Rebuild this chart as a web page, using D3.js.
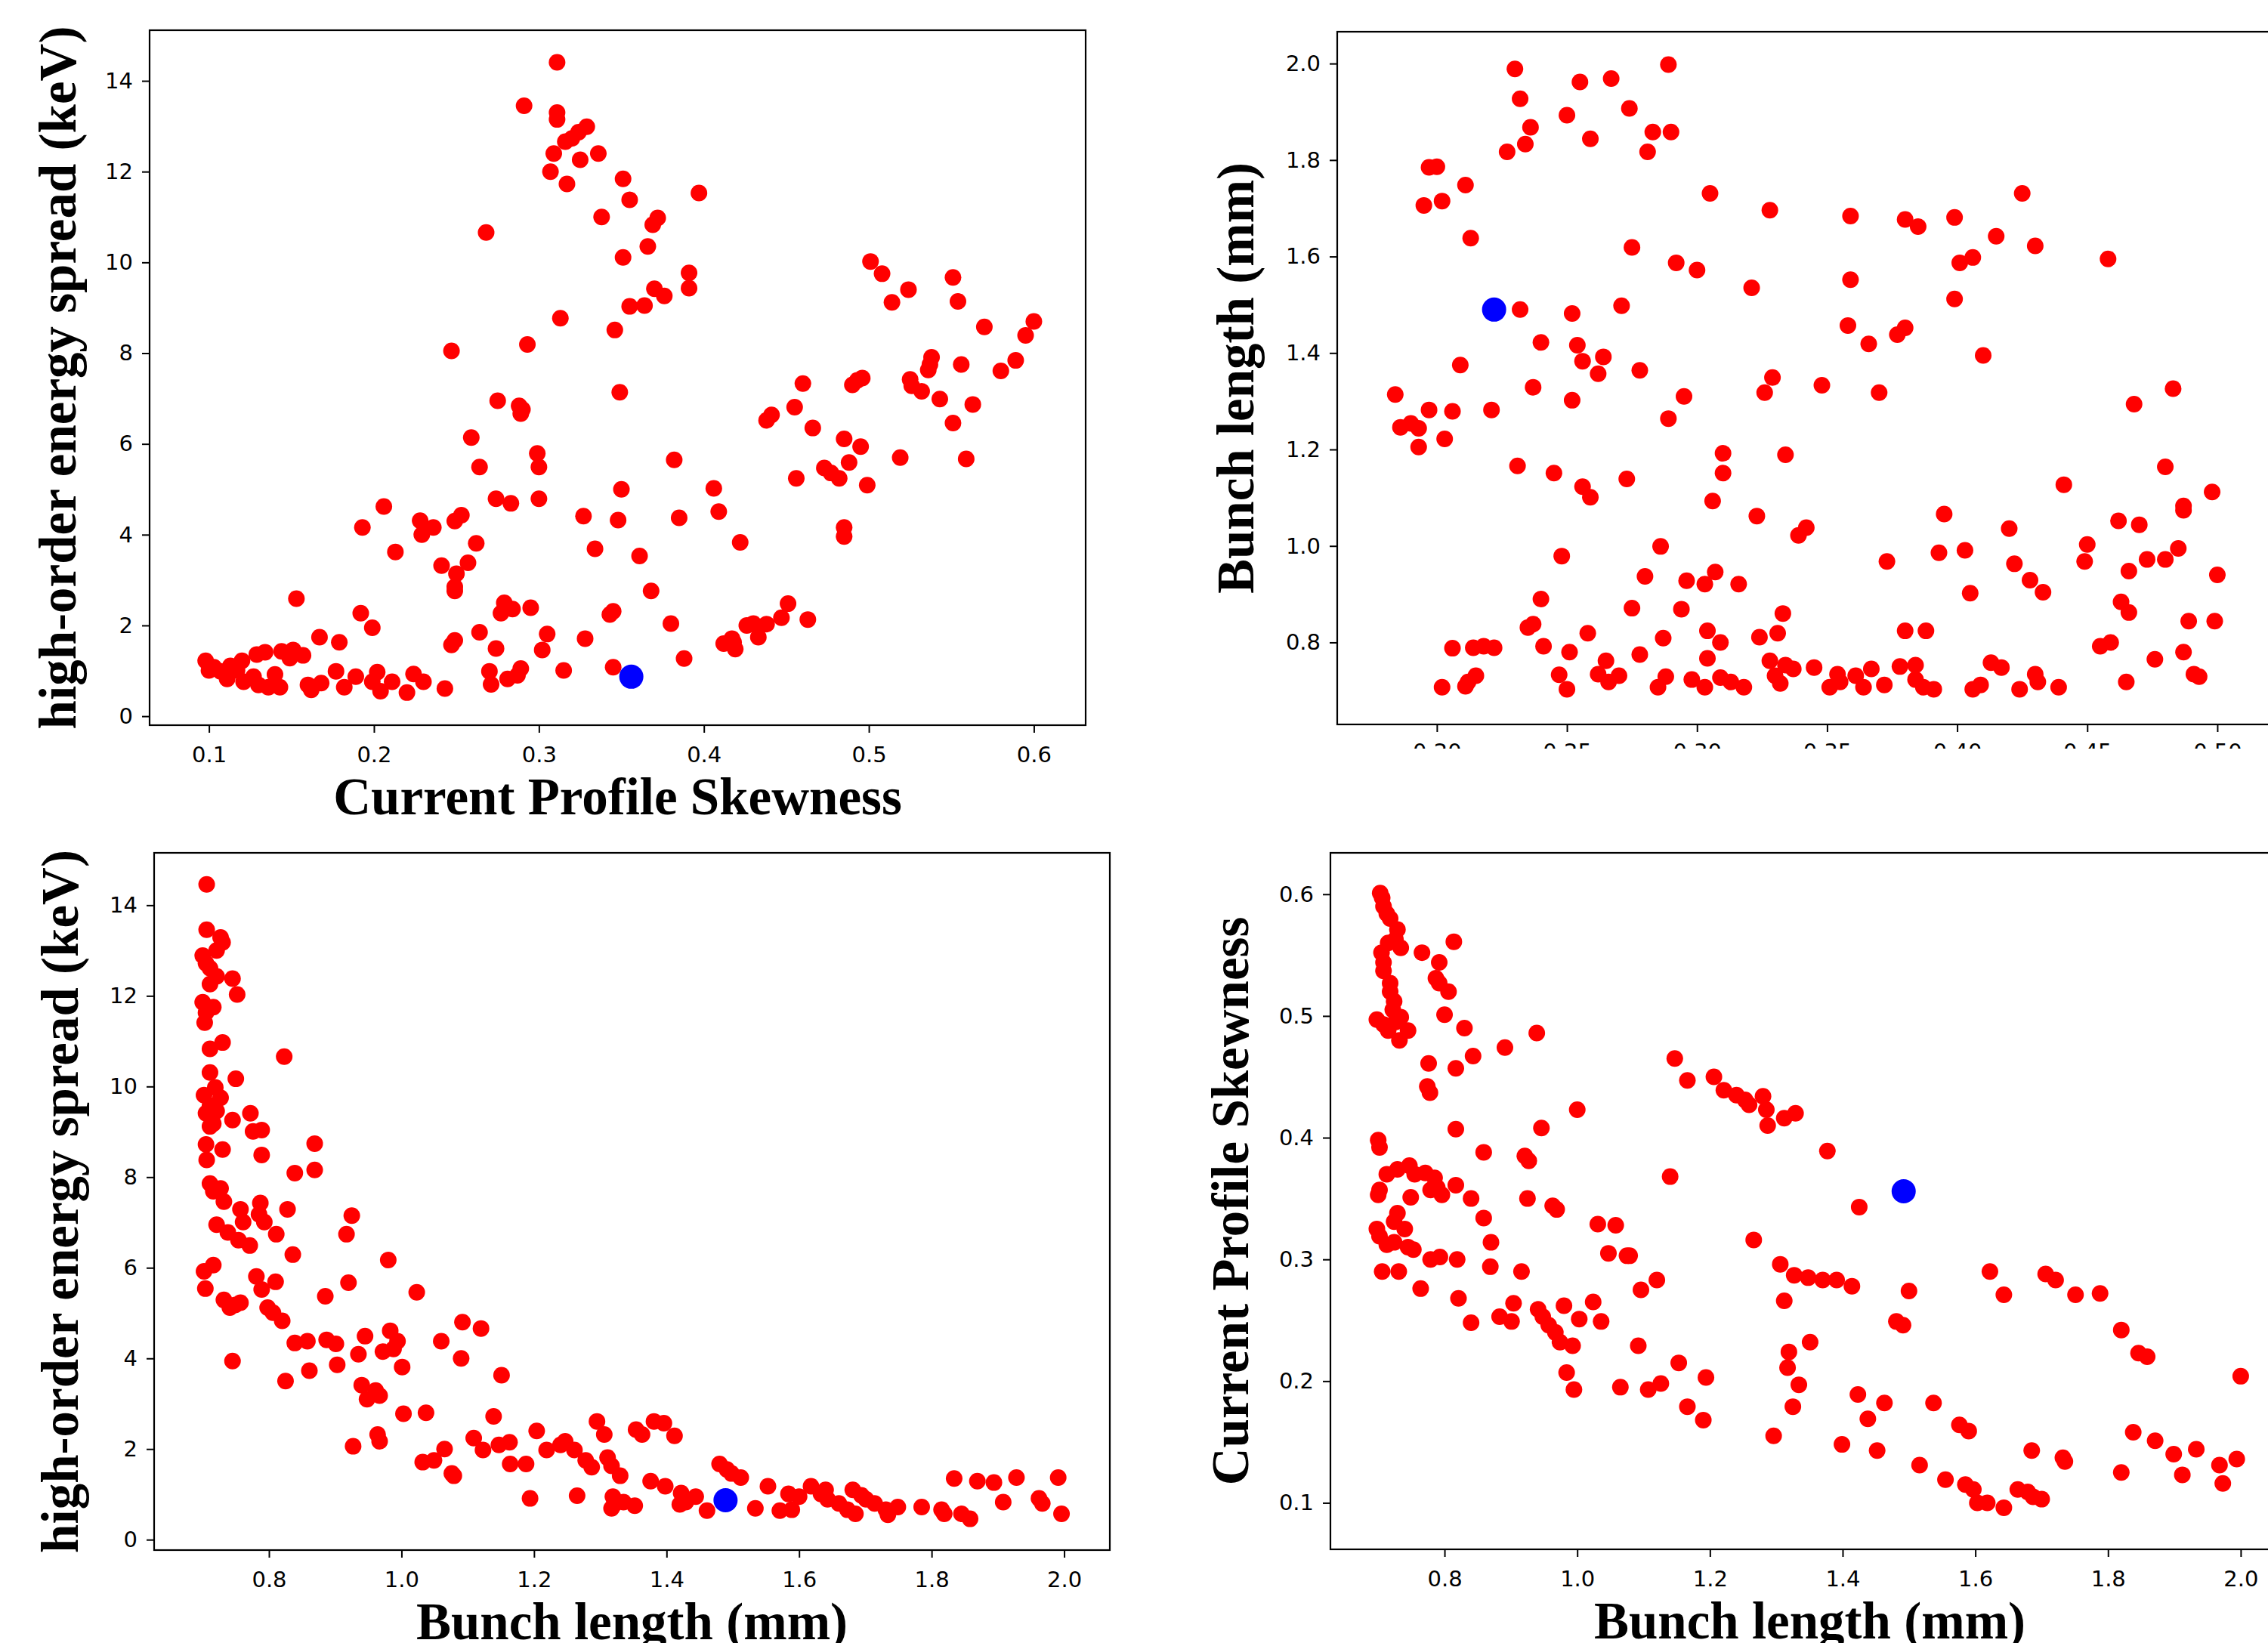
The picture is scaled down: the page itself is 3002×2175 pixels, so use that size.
<!DOCTYPE html>
<meta charset="utf-8">
<style>
body { margin: 0; background: #fff; }
.tick text { font-family: "DejaVu Sans", sans-serif; font-size: 29px; fill: #000; }
.tick line { stroke: #000; stroke-width: 2px; }
.domain { display: none; }
.frame { fill: none; stroke: #000; stroke-width: 2.2px; }
.label { font-family: "Liberation Serif", "Times New Roman", serif; font-weight: bold; font-size: 69px; fill: #000; }
.dot { fill: #ff0000; }
.best { fill: #0000ff; }
</style>
<body>
<script src="https://d3js.org/d3.v7.min.js"></script>
<script>
var width = 3002,
    height = 2175;

// [current profile skewness, high-order energy spread (keV)]
var skewSpread = [
  [0.311,14.41],[0.291,13.45],[0.311,13.30],[0.311,13.15],[0.329,12.99],[0.324,12.87],[0.320,12.73],[0.316,12.66],
  [0.309,12.40],[0.336,12.40],[0.325,12.26],[0.307,12.00],[0.317,11.73],[0.351,11.84],[0.355,11.38],[0.397,11.53],
  [0.338,11.00],[0.372,10.98],[0.369,10.83],[0.268,10.66],[0.366,10.35],[0.351,10.11],[0.391,9.77],[0.391,9.43],
  [0.370,9.42],[0.376,9.26],[0.355,9.03],[0.364,9.05],[0.313,8.77],[0.346,8.51],[0.247,8.05],[0.293,8.19],
  [0.349,7.14],[0.275,6.95],[0.288,6.84],[0.290,6.76],[0.289,6.67],[0.259,6.14],[0.264,5.49],[0.299,5.79],
  [0.300,5.49],[0.300,4.79],[0.274,4.79],[0.283,4.69],[0.327,4.41],[0.348,4.32],[0.350,5.00],[0.382,5.65],
  [0.385,4.37],[0.406,5.02],[0.409,4.51],[0.422,3.83],[0.334,3.69],[0.361,3.53],[0.368,2.76],
  [0.501,10.02],[0.508,9.75],[0.514,9.12],[0.524,9.40],[0.551,9.67],[0.554,9.14],[0.570,8.58],[0.600,8.70],
  [0.595,8.39],[0.580,7.61],[0.589,7.84],[0.556,7.75],[0.537,7.75],[0.538,7.91],[0.536,7.63],[0.525,7.42],
  [0.526,7.28],[0.532,7.16],[0.543,6.99],[0.563,6.87],[0.551,6.46],[0.559,5.67],[0.519,5.70],[0.493,7.40],
  [0.496,7.45],[0.490,7.30],[0.460,7.33],[0.455,6.81],[0.438,6.52],[0.441,6.64],[0.466,6.35],[0.485,6.11],
  [0.495,5.94],[0.488,5.59],[0.473,5.47],[0.477,5.36],[0.482,5.24],[0.456,5.24],[0.499,5.09],[0.485,4.16],
  [0.485,3.96],
  [0.206,4.62],[0.193,4.16],[0.228,4.31],[0.229,4.00],[0.236,4.16],[0.249,4.30],[0.253,4.43],[0.213,3.62],
  [0.262,3.81],[0.241,3.32],[0.257,3.38],[0.250,3.14],[0.249,2.85],[0.249,2.76],[0.153,2.59],[0.192,2.27],
  [0.199,1.95],[0.167,1.74],[0.179,1.63],[0.247,1.57],[0.249,1.67],[0.264,1.85],[0.274,1.49],[0.279,2.50],
  [0.284,2.36],[0.277,2.27],[0.295,2.39],[0.305,1.81],[0.302,1.46],[0.328,1.71],[0.315,1.01],[0.343,2.24],
  [0.345,2.31],[0.345,1.08],[0.380,2.04],[0.388,1.27],[0.412,1.60],[0.418,1.63],[0.419,1.48],[0.417,1.71],
  [0.433,1.74],[0.433,1.97],[0.426,2.00],[0.438,2.03],[0.447,2.17],[0.451,2.48],[0.463,2.13],[0.430,2.04],
  [0.098,1.22],[0.100,1.01],[0.103,1.08],[0.107,0.99],[0.111,0.82],[0.113,1.11],[0.117,1.01],[0.120,1.22],
  [0.121,0.76],[0.127,0.87],[0.129,1.36],[0.130,0.69],[0.134,1.41],[0.136,0.64],[0.140,0.92],[0.143,0.64],
  [0.144,1.43],[0.149,1.28],[0.151,1.46],[0.157,1.34],[0.160,0.69],[0.162,0.58],[0.168,0.73],[0.177,0.99],
  [0.182,0.64],[0.189,0.87],[0.199,0.76],[0.202,0.97],[0.204,0.55],[0.211,0.76],[0.220,0.52],[0.224,0.93],
  [0.230,0.76],[0.243,0.61],[0.270,0.99],[0.271,0.70],[0.281,0.82],[0.287,0.90],[0.289,1.05]
];

// [unlabelled parameter, bunch length (mm)]
var paramBunch = [
  [0.230,1.989],[0.255,1.962],[0.267,1.969],[0.289,1.998],[0.232,1.927],[0.274,1.907],[0.250,1.893],[0.236,1.868],
  [0.283,1.858],[0.290,1.858],[0.259,1.844],[0.234,1.833],[0.227,1.817],[0.281,1.817],[0.197,1.785],[0.200,1.786],
  [0.211,1.748],[0.195,1.706],[0.202,1.715],[0.213,1.638],[0.305,1.731],[0.328,1.696],[0.359,1.684],[0.380,1.677],
  [0.385,1.662],[0.399,1.681],[0.425,1.731],[0.415,1.642],[0.430,1.622],[0.401,1.587],[0.406,1.598],[0.458,1.595],
  [0.275,1.619],[0.292,1.587],[0.300,1.572],[0.321,1.535],[0.359,1.552],[0.399,1.512],[0.232,1.490],[0.252,1.482],
  [0.271,1.498],[0.358,1.457],[0.377,1.438],[0.380,1.452],[0.366,1.419],[0.410,1.395],[0.240,1.422],[0.254,1.416],
  [0.256,1.383],[0.264,1.392],[0.262,1.357],[0.278,1.364],[0.209,1.375],[0.237,1.329],[0.252,1.302],[0.295,1.310],
  [0.184,1.314],[0.197,1.282],[0.206,1.279],[0.221,1.282],[0.186,1.246],[0.190,1.254],[0.193,1.244],[0.193,1.205],
  [0.203,1.222],[0.289,1.264],[0.326,1.318],[0.329,1.349],[0.348,1.333],[0.370,1.318],[0.468,1.294],[0.483,1.326],
  [0.231,1.166],[0.245,1.151],[0.256,1.123],[0.259,1.101],[0.273,1.139],[0.310,1.192],[0.310,1.151],[0.334,1.189],
  [0.306,1.093],[0.323,1.062],[0.339,1.022],[0.342,1.038],[0.441,1.127],[0.480,1.164],[0.498,1.112],[0.395,1.066],
  [0.403,0.991],[0.393,0.986],[0.420,1.036],[0.373,0.968],[0.422,0.963],[0.428,0.929],[0.433,0.904],[0.405,0.902],
  [0.449,0.968],[0.450,1.003],[0.462,1.052],[0.470,1.044],[0.466,0.948],[0.473,0.972],[0.480,0.972],[0.485,0.995],
  [0.487,1.074],[0.487,1.083],[0.500,0.940],[0.463,0.884],[0.466,0.862],[0.489,0.844],[0.499,0.844],[0.455,0.792],
  [0.459,0.800],[0.487,0.780],[0.476,0.765],[0.465,0.718],[0.491,0.734],[0.493,0.729],[0.286,0.999],[0.248,0.979],
  [0.280,0.937],[0.296,0.928],[0.303,0.921],[0.307,0.946],[0.316,0.921],[0.240,0.890],[0.275,0.871],[0.294,0.869],
  [0.333,0.860],[0.235,0.831],[0.237,0.838],[0.258,0.819],[0.287,0.809],[0.304,0.824],[0.309,0.800],[0.324,0.811],
  [0.331,0.819],[0.380,0.824],[0.388,0.824],[0.206,0.788],[0.214,0.789],[0.218,0.792],[0.222,0.789],[0.241,0.792],
  [0.251,0.780],[0.278,0.775],[0.304,0.767],[0.265,0.762],[0.328,0.762],[0.334,0.753],[0.337,0.745],[0.345,0.748],
  [0.378,0.750],[0.384,0.753],[0.413,0.758],[0.417,0.748],[0.215,0.731],[0.212,0.718],[0.202,0.707],[0.211,0.709],
  [0.247,0.733],[0.250,0.703],[0.262,0.734],[0.266,0.718],[0.270,0.731],[0.285,0.707],[0.288,0.729],[0.298,0.723],
  [0.303,0.707],[0.309,0.727],[0.313,0.718],[0.318,0.707],[0.330,0.731],[0.332,0.715],[0.351,0.707],[0.354,0.734],
  [0.355,0.718],[0.361,0.731],[0.364,0.707],[0.367,0.745],[0.372,0.712],[0.384,0.723],[0.387,0.707],[0.391,0.703],
  [0.406,0.703],[0.409,0.712],[0.424,0.703],[0.430,0.734],[0.431,0.718],[0.439,0.707]
];

// [bunch length (mm), high-order energy spread (keV)]
var bunchSpread = [
  [0.706,14.46],[0.706,13.46],[0.727,13.29],[0.730,13.18],[0.721,13.00],[0.700,12.89],[0.705,12.72],[0.711,12.61],
  [0.721,12.43],[0.745,12.38],[0.752,12.03],[0.711,12.26],[0.700,11.86],[0.716,11.75],[0.705,11.63],[0.703,11.41],
  [0.730,10.97],[0.711,10.83],[0.823,10.66],[0.711,10.31],[0.750,10.17],[0.702,9.81],[0.719,9.98],[0.727,9.75],
  [0.711,9.58],[0.721,9.46],[0.705,9.41],[0.716,9.18],[0.711,9.12],[0.745,9.26],[0.772,9.41],[0.776,9.01],
  [0.789,9.04],[0.705,8.72],[0.730,8.61],[0.706,8.38],[0.789,8.49],[0.869,8.74],[0.839,8.09],[0.869,8.16],
  [0.711,7.86],[0.716,7.69],[0.727,7.75],[0.732,7.46],[0.757,7.29],[0.761,7.01],[0.787,7.43],[0.785,7.18],
  [0.793,7.01],[0.828,7.29],[0.721,6.95],[0.738,6.78],[0.754,6.61],[0.771,6.49],[0.811,6.74],[0.836,6.29],
  [0.925,7.15],[0.917,6.74],[0.980,6.17],[0.702,5.92],[0.716,6.06],[0.704,5.54],[0.781,5.81],[0.789,5.52],
  [0.810,5.69],[0.732,5.29],[0.749,5.18],[0.757,5.23],[0.741,5.12],[0.798,5.12],[0.806,5.01],[0.820,4.83],
  [0.885,5.37],[0.920,5.67],[1.023,5.46],[0.745,3.94],[0.839,4.34],[0.858,4.38],[0.887,4.41],[0.901,4.32],
  [0.825,3.50],[0.861,3.73],[0.903,3.86],[0.935,4.09],[0.945,4.49],[0.983,4.61],[0.994,4.38],[0.988,4.21],
  [0.972,4.15],[1.001,3.81],[1.060,4.38],[1.092,4.80],[1.120,4.66],[1.090,4.00],[1.151,3.63],[0.940,3.41],
  [0.948,3.10],[0.961,3.29],[0.967,3.18],[1.003,2.78],[1.037,2.80],[1.139,2.72],[0.927,2.06],[0.964,2.32],
  [0.967,2.17],[1.032,1.71],[1.049,1.75],[1.065,2.00],[1.076,1.46],[1.079,1.41],[1.109,2.24],[1.123,1.98],
  [1.147,2.09],[1.163,2.15],[1.164,1.67],[1.188,1.67],[1.204,2.40],[1.219,1.98],[1.240,2.09],[1.247,2.17],
  [1.261,1.98],[1.194,0.91],[1.265,0.97],[1.278,1.75],[1.287,1.60],[1.295,2.61],[1.306,2.32],[1.311,1.81],
  [1.317,1.63],[1.330,1.41],[1.354,2.43],[1.363,2.32],[1.381,2.61],[1.396,2.57],[1.412,2.29],[1.319,0.95],
  [1.321,0.78],[1.317,0.69],[1.335,0.83],[1.352,0.75],[1.376,1.29],[1.398,1.18],[1.422,1.03],[1.429,0.83],
  [1.420,0.78],[1.444,0.95],[1.461,0.64],[1.480,1.67],[1.491,1.55],[1.498,1.46],[1.512,1.37],[1.534,0.69],
  [1.553,1.18],[1.571,0.64],[1.584,1.01],[1.589,0.66],[1.600,0.95],[1.618,1.18],[1.633,1.01],[1.640,1.10],
  [1.643,0.89],[1.660,0.80],[1.673,0.66],[1.681,1.10],[1.685,0.57],[1.694,0.98],[1.701,0.89],[1.714,0.80],
  [1.731,0.66],[1.734,0.55],[1.749,0.72],[1.785,0.72],[1.815,0.66],[1.819,0.57],[1.834,1.35],[1.845,0.57],
  [1.858,0.46],[1.869,1.29],[1.894,1.26],[1.908,0.83],[1.928,1.37],[1.962,0.91],[1.967,0.80],[1.991,1.37],
  [1.996,0.57]
];

// [bunch length (mm), current profile skewness]
var bunchSkew = [
  [0.703,0.601],[0.706,0.597],[0.708,0.590],[0.713,0.584],[0.718,0.580],[0.729,0.571],[0.726,0.563],[0.734,0.556],
  [0.715,0.560],[0.705,0.552],[0.708,0.544],[0.708,0.537],[0.718,0.527],[0.718,0.520],[0.724,0.512],[0.722,0.505],
  [0.698,0.497],[0.708,0.493],[0.715,0.488],[0.726,0.495],[0.734,0.499],[0.745,0.488],[0.732,0.480],[0.766,0.552],
  [0.792,0.544],[0.787,0.531],[0.792,0.527],[0.806,0.520],[0.814,0.561],[0.800,0.501],[0.830,0.490],[0.776,0.461],
  [0.774,0.442],[0.778,0.437],[0.817,0.457],[0.843,0.467],[0.891,0.474],[0.939,0.486],[1.000,0.423],[0.946,0.408],
  [0.817,0.407],[0.859,0.388],[0.700,0.398],[0.702,0.392],[0.702,0.357],[0.700,0.353],[0.713,0.370],[0.729,0.374],
  [0.747,0.377],[0.755,0.370],[0.771,0.371],[0.785,0.367],[0.789,0.359],[0.796,0.353],[0.779,0.357],[0.817,0.361],
  [0.749,0.351],[0.840,0.350],[0.859,0.334],[0.870,0.314],[0.869,0.294],[0.729,0.338],[0.724,0.331],[0.740,0.325],
  [0.698,0.325],[0.702,0.319],[0.713,0.312],[0.724,0.314],[0.745,0.310],[0.753,0.308],[0.779,0.300],[0.793,0.302],
  [0.819,0.300],[0.706,0.290],[0.731,0.290],[0.764,0.276],[0.821,0.268],[0.840,0.248],[0.883,0.253],[0.901,0.249],
  [0.904,0.264],[0.925,0.350],[0.921,0.385],[0.927,0.381],[0.963,0.344],[0.969,0.341],[0.916,0.290],[0.941,0.259],
  [0.948,0.253],[0.957,0.246],[0.967,0.240],[0.980,0.262],[0.974,0.232],[0.993,0.229],[1.003,0.251],[0.984,0.207],
  [0.995,0.193],[1.024,0.265],[1.036,0.249],[1.031,0.329],[1.058,0.328],[1.047,0.305],[1.075,0.303],[1.079,0.303],
  [1.065,0.195],[1.092,0.229],[1.096,0.275],[1.120,0.283],[1.107,0.193],[1.126,0.198],[1.140,0.368],[1.147,0.465],
  [1.166,0.447],[1.153,0.215],[1.166,0.179],[1.194,0.203],[1.190,0.168],[1.206,0.450],[1.221,0.439],[1.240,0.435],
  [1.253,0.431],[1.259,0.427],[1.280,0.434],[1.285,0.423],[1.287,0.410],[1.312,0.416],[1.329,0.420],[1.266,0.316],
  [1.306,0.296],[1.312,0.266],[1.319,0.224],[1.317,0.211],[1.334,0.197],[1.325,0.179],[1.296,0.155],[1.351,0.232],
  [1.377,0.389],[1.327,0.287],[1.348,0.285],[1.370,0.283],[1.391,0.283],[1.414,0.278],[1.425,0.343],[1.423,0.189],
  [1.438,0.169],[1.399,0.148],[1.452,0.143],[1.463,0.182],[1.481,0.249],[1.491,0.246],[1.500,0.274],[1.516,0.131],
  [1.537,0.182],[1.555,0.119],[1.576,0.164],[1.590,0.159],[1.585,0.115],[1.597,0.111],[1.603,0.100],[1.618,0.100],
  [1.643,0.096],[1.622,0.290],[1.643,0.271],[1.664,0.111],[1.679,0.109],[1.687,0.105],[1.700,0.103],[1.685,0.143],
  [1.706,0.288],[1.721,0.283],[1.751,0.271],[1.732,0.137],[1.735,0.134],[1.788,0.272],[1.820,0.242],[1.846,0.223],
  [1.859,0.220],[1.820,0.125],[1.838,0.158],[1.871,0.151],[1.899,0.140],[1.912,0.123],[1.933,0.144],[1.968,0.131],
  [1.973,0.116],[1.994,0.136],[2.000,0.204]
];

// the highlighted (blue) solution in each panel
var bestSkewSpread = [0.356, 0.87];
var bestParamBunch = [0.222, 1.49];
var bestBunchSpread = [1.489, 0.87];
var bestBunchSkew = [1.492, 0.356];

var spreadTicks = [0, 2, 4, 6, 8, 10, 12, 14];
var skewTicks = [0.1, 0.2, 0.3, 0.4, 0.5, 0.6];
var bunchTicks = [0.8, 1.0, 1.2, 1.4, 1.6, 1.8, 2.0];
var paramTicks = [0.20, 0.25, 0.30, 0.35, 0.40, 0.45, 0.50];

var svg = d3.select("body").append("svg")
    .attr("width", width)
    .attr("height", height);
svg.append("rect").attr("width", width).attr("height", height).attr("fill", "#fff");

// the top-right panel is cropped just under its tick marks in the original figure
svg.append("defs").append("clipPath").attr("id", "cut")
  .append("rect").attr("x", 1500).attr("y", 0).attr("width", 1600).attr("height", 991);

function panel(p) {
  var x = d3.scaleLinear().domain(p.xDomain).range([p.left, p.right]);
  var y = d3.scaleLinear().domain(p.yDomain).range([p.bottom, p.top]);
  var g = svg.append("g");

  g.selectAll(".dot")
    .data(p.data)
    .join("circle")
      .attr("class", "dot")
      .attr("cx", d => x(d[0]))
      .attr("cy", d => y(d[1]))
      .attr("r", 11);

  g.append("circle")
      .attr("class", "best")
      .attr("cx", x(p.best[0]))
      .attr("cy", y(p.best[1]))
      .attr("r", 16);

  g.append("rect")
      .attr("class", "frame")
      .attr("x", p.left)
      .attr("y", p.top)
      .attr("width", p.right - p.left)
      .attr("height", p.bottom - p.top);

  var xWrap = g.append("g");
  if (p.clipX) xWrap.attr("clip-path", "url(#cut)");
  xWrap.append("g")
      .attr("transform", "translate(0," + p.bottom + ")")
      .call(d3.axisBottom(x).tickValues(p.xTicks).tickFormat(d3.format(p.xFmt))
        .tickSize(10).tickPadding(p.xPad || 18));

  g.append("g")
      .attr("transform", "translate(" + p.left + ",0)")
      .call(d3.axisLeft(y).tickValues(p.yTicks).tickFormat(d3.format(p.yFmt))
        .tickSize(10).tickPadding(12));

  if (p.xLabel) {
    g.append("text")
        .attr("class", "label")
        .attr("text-anchor", "middle")
        .attr("x", (p.left + p.right) / 2)
        .attr("y", p.bottom + p.xLabelDy)
        .text(p.xLabel);
  }
  g.append("text")
      .attr("class", "label")
      .attr("text-anchor", "middle")
      .attr("transform", "translate(" + (p.left - p.yLabelDx) + "," + ((p.top + p.bottom) / 2) + ") rotate(-90)")
      .text(p.yLabel);
}

panel({
  data: skewSpread, best: bestSkewSpread,
  left: 198, right: 1437, top: 40, bottom: 960,
  xDomain: [0.064, 0.6314], yDomain: [-0.198, 15.116],
  xTicks: skewTicks, xFmt: ".1f", yTicks: spreadTicks, yFmt: "d",
  xLabel: "Current Profile Skewness", xLabelDy: 118,
  yLabel: "high-order energy spread (keV)", yLabelDx: 98
});

panel({
  data: paramBunch, best: bestParamBunch,
  left: 1770, right: 3010, top: 42, bottom: 959,
  xDomain: [0.1617, 0.5218], yDomain: [0.63, 2.066],
  xTicks: paramTicks, xFmt: ".2f", yTicks: bunchTicks, yFmt: ".1f", xPad: 15, clipX: true,
  yLabel: "Bunch length (mm)", yLabelDx: 111
});

panel({
  data: bunchSpread, best: bestBunchSpread,
  left: 204, right: 1469, top: 1129, bottom: 2052,
  xDomain: [0.6267, 2.0689], yDomain: [-0.23, 15.156],
  xTicks: bunchTicks, xFmt: ".1f", yTicks: spreadTicks, yFmt: "d",
  xLabel: "Bunch length (mm)", xLabelDy: 118,
  yLabel: "high-order energy spread (keV)", yLabelDx: 101
});

panel({
  data: bunchSkew, best: bestBunchSkew,
  left: 1761, right: 3030, top: 1129, bottom: 2051,
  xDomain: [0.628, 2.073], yDomain: [0.0618, 0.634],
  xTicks: bunchTicks, xFmt: ".1f", yTicks: skewTicks, yFmt: ".1f",
  xLabel: "Bunch length (mm)", xLabelDy: 118,
  yLabel: "Current Profile Skewness", yLabelDx: 109
});
</script>
